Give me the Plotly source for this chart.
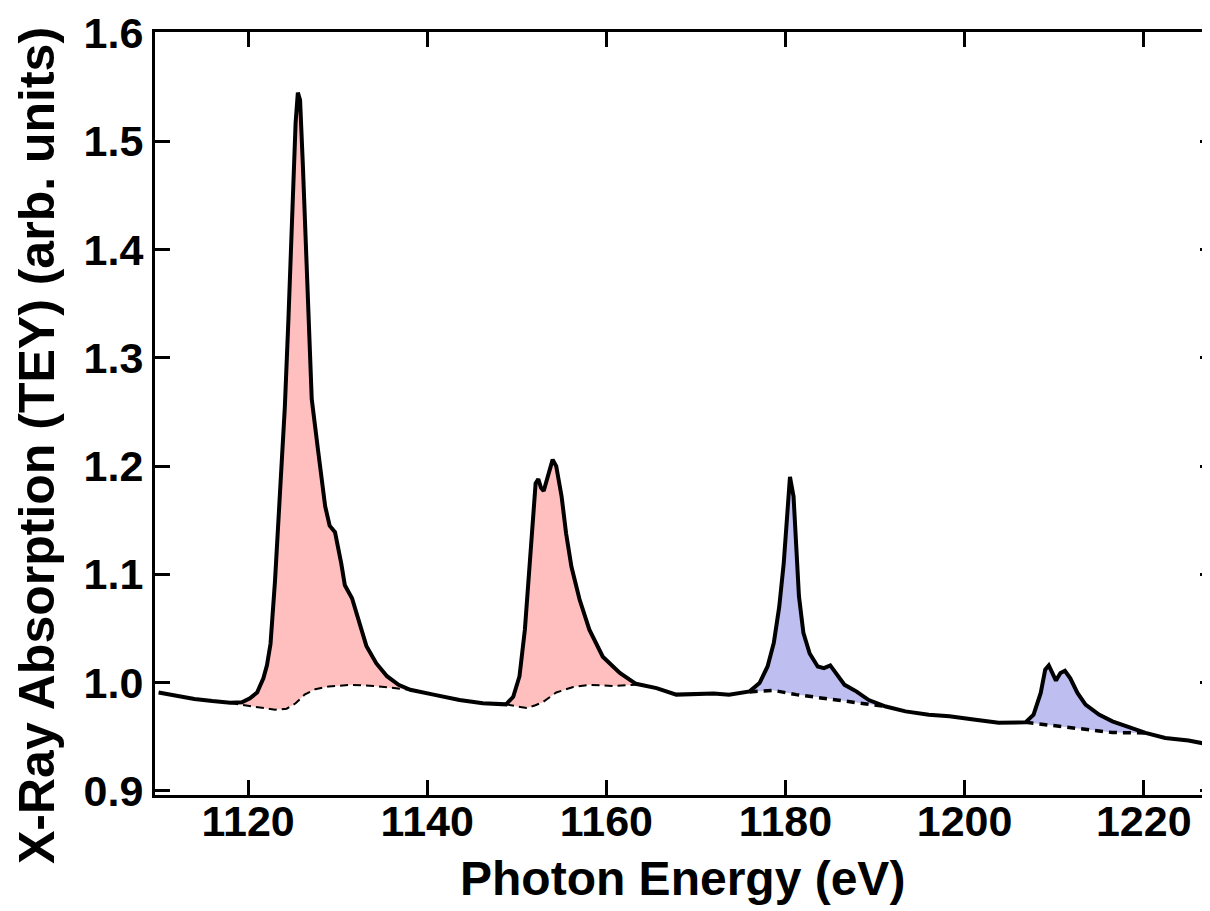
import plotly.graph_objects as go

# ---- data ----
energy = [1110.0, 1112.0, 1114.0, 1116.0, 1118.0, 1119.3, 1120.2, 1121.0, 1121.7, 1122.1,
          1122.5, 1123.0, 1123.6, 1124.1, 1124.5, 1124.9, 1125.3, 1125.55, 1125.8, 1126.1,
          1126.4, 1126.7, 1127.1, 1127.8, 1128.6, 1129.1, 1129.7, 1130.4, 1130.8, 1131.6,
          1132.3, 1133.2, 1134.3, 1135.5, 1136.8, 1138.1, 1140.7, 1143.6, 1146.2, 1148.8,
          1149.6, 1150.3, 1150.9, 1151.4, 1151.8, 1152.1, 1152.4, 1152.7, 1153.0, 1153.5,
          1154.0, 1154.4, 1155.0, 1155.5, 1156.1, 1157.0, 1158.1, 1159.6, 1161.5, 1163.3,
          1165.6, 1167.8, 1170.0, 1172.0, 1173.7, 1176.0, 1177.1, 1178.0, 1178.7, 1179.3,
          1179.8, 1180.2, 1180.5, 1180.9, 1181.2, 1181.5, 1182.0, 1182.7, 1183.6, 1184.3,
          1185.0, 1185.6, 1186.6, 1187.9, 1189.3, 1191.2, 1193.4, 1196.0, 1198.3, 1201.0,
          1203.8, 1206.8, 1207.7, 1208.5, 1209.0, 1209.4, 1209.8, 1210.2, 1210.7, 1211.2,
          1211.8, 1212.6, 1213.5, 1215.0, 1216.5, 1218.7, 1220.2, 1222.4, 1225.0, 1227.5]
absorption = [0.991, 0.988, 0.985, 0.983, 0.9815, 0.982, 0.9856, 0.991, 1.004, 1.016,
              1.036, 1.094, 1.175, 1.255, 1.336, 1.436, 1.517, 1.545, 1.538, 1.48,
              1.415, 1.350, 1.262, 1.215, 1.163, 1.145, 1.139, 1.110, 1.090, 1.078,
              1.058, 1.034, 1.018, 1.006, 0.998, 0.9935, 0.989, 0.984, 0.981, 0.980,
              0.987, 1.006, 1.049, 1.110, 1.157, 1.184, 1.188, 1.180, 1.177, 1.190,
              1.206, 1.200, 1.172, 1.138, 1.107, 1.077, 1.049, 1.024, 1.009, 0.999,
              0.995, 0.989, 0.990, 0.990, 0.989, 0.992, 0.9997, 1.015, 1.037, 1.070,
              1.110, 1.157, 1.190, 1.172, 1.126, 1.080, 1.046, 1.027, 1.015, 1.0135,
              1.016, 1.009, 0.998, 0.992, 0.984, 0.978, 0.9735, 0.9705, 0.969, 0.966,
              0.963, 0.9634, 0.9705, 0.9905, 1.012, 1.016, 1.009, 1.002, 1.009, 1.011,
              1.004, 0.9905, 0.9797, 0.9705, 0.9643, 0.958, 0.9536, 0.949, 0.9467, 0.9425]

# background (dashed) under each edge
base1_e = [1118.0, 1120.0, 1121.5, 1123.0, 1124.3, 1125.3, 1126.3, 1127.5, 1129.0, 1131.5, 1134.0, 1136.0, 1138.1]
base1_v = [0.9812, 0.979, 0.977, 0.975, 0.976, 0.981, 0.989, 0.994, 0.9965, 0.998, 0.997, 0.995, 0.9935]
base2_e = [1148.8, 1150.0, 1151.1, 1152.0, 1152.9, 1154.4, 1156.3, 1158.1, 1160.7, 1163.3]
base2_v = [0.980, 0.978, 0.9766, 0.979, 0.982, 0.991, 0.996, 0.998, 0.997, 0.998]
base3_e = [1176.0, 1178.6, 1181.2, 1184.1, 1187.1, 1191.2]
base3_v = [0.9915, 0.993, 0.989, 0.986, 0.983, 0.978]
base4_e = [1206.8, 1210.5, 1213.1, 1216.5, 1220.2]
base4_v = [0.9634, 0.9597, 0.957, 0.954, 0.9536]

x_ticks = [1120, 1140, 1160, 1180, 1200, 1220]
y_ticks = [0.9, 1.0, 1.1, 1.2, 1.3, 1.4, 1.5, 1.6]
y_tick_text = ["0.9", "1.0", "1.1", "1.2", "1.3", "1.4", "1.5", "1.6"]

PINK = "rgb(255,191,191)"
BLUE = "rgb(190,190,240)"
FONT = "Liberation Sans, Arial, sans-serif"

fig = go.Figure()


def fill_polygon(be, bv):
    lo, hi = be[0], be[-1]
    ce = [e for e in energy if lo <= e <= hi]
    cv = [v for e, v in zip(energy, absorption) if lo <= e <= hi]
    return [lo] + ce + [hi] + be[::-1], [bv[0]] + cv + [bv[-1]] + bv[::-1]


for be, bv, col in [(base1_e, base1_v, PINK), (base2_e, base2_v, PINK),
                    (base3_e, base3_v, BLUE), (base4_e, base4_v, BLUE)]:
    px, py = fill_polygon(be, bv)
    fig.add_trace(go.Scatter(x=px, y=py, fill="toself", fillcolor=col,
                             line=dict(width=0), mode="lines", hoverinfo="skip",
                             showlegend=False))

for be, bv in [(base1_e, base1_v), (base2_e, base2_v)]:
    fig.add_trace(go.Scatter(x=be, y=bv, mode="lines", showlegend=False,
                             line=dict(color="black", width=2, dash="8px,5px")))
for be, bv in [(base3_e, base3_v), (base4_e, base4_v)]:
    fig.add_trace(go.Scatter(x=be, y=bv, mode="lines", showlegend=False, yaxis="y2",
                             line=dict(color="black", width=3.5, dash="8px,6px")))

fig.add_trace(go.Scatter(x=energy, y=absorption, mode="lines", showlegend=False,
                         line=dict(color="black", width=4)))

xr = [1109.6, 1227.4]
yr = [0.8963, 1.6009]

# the page body has an 8px margin, so the figure is sized to fit the 1210x911 window
fig.update_layout(
    width=1202, height=903,
    margin=dict(l=147, r=0, t=24, b=116),
    paper_bgcolor="white", plot_bgcolor="white",
    font=dict(family=FONT, color="black"),
    xaxis=dict(range=xr, tickvals=x_ticks, ticks="inside", ticklen=15, tickwidth=3,
               tickcolor="black", showline=True, linewidth=3, linecolor="black",
               mirror="ticks", showgrid=False, zeroline=False, ticklabelstandoff=-14,
               tickfont=dict(family=FONT, size=43, weight="bold", color="black")),
    yaxis=dict(range=yr, tickvals=y_ticks, ticktext=y_tick_text, ticks="inside",
               ticklen=15, tickwidth=3, tickcolor="black", showline=True, linewidth=3,
               linecolor="black", showgrid=False, zeroline=False,
               tickfont=dict(family=FONT, size=43, weight="bold", color="black")),
    yaxis2=dict(range=yr, tickvals=y_ticks, overlaying="y", side="right",
                ticks="inside", ticklen=10, tickwidth=3, tickcolor="black",
                showticklabels=False, showline=False, showgrid=False, zeroline=False),
    annotations=[
        dict(text="<b>Photon Energy (eV)</b>", xref="paper", yref="paper",
             x=0.5, y=(795 - 878) / 763, xanchor="center", yanchor="middle",
             showarrow=False, font=dict(family=FONT, size=48, color="black")),
        dict(text="<b>X-Ray Absorption (TEY) (arb. units)</b>", xref="paper", yref="paper",
             x=(37 - 155) / 1055, y=(795 - 446) / 763, xanchor="center", yanchor="middle",
             textangle=-90, showarrow=False,
             font=dict(family=FONT, size=50, color="black")),
    ],
)

fig.write_html(
    "out.html",
    post_script="document.documentElement.style.overflow='hidden';"
                "document.body.style.overflow='hidden';",
)
